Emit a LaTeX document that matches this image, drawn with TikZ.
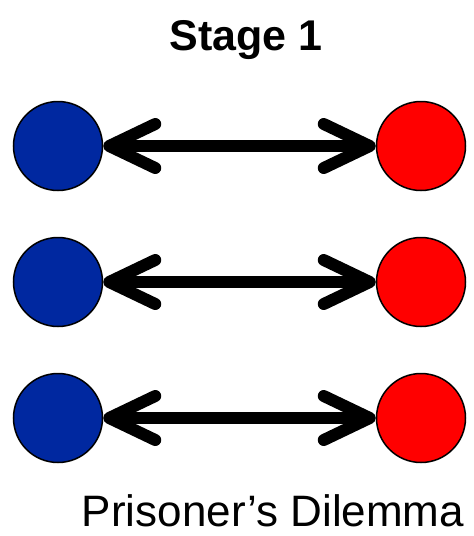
\documentclass[tikz,border=0pt]{standalone}
\usepackage{fontspec}
\setmainfont{Liberation Sans}
\usetikzlibrary{arrows.meta}
\definecolor{pblue}{RGB}{0,40,160}
\definecolor{pred}{RGB}{255,0,0}
\begin{document}
\begin{tikzpicture}[x=1pt,y=-1pt,
  player/.style={circle,draw=black,line width=1.5pt,minimum size=89pt,inner sep=0pt},
  bluep/.style={player,fill=pblue},
  redp/.style={player,fill=pred},
  link/.style={line width=12pt,{Straight Barb[round,length=46pt,width=44pt]}-{Straight Barb[round,length=46pt,width=44pt]}},
  title/.style={font=\fontsize{43}{50}\selectfont\bfseries,anchor=base,inner sep=0pt},
  caption/.style={font=\fontsize{44}{52}\selectfont,anchor=base,inner sep=0pt,text depth=0pt}]
\useasboundingbox (0,0) rectangle (474,536);
\node[title] (t) at (246,50) {Stage 1};
\foreach \i/\y in {1/146,2/282,3/418}{
  \node[bluep] (b\i) at (58,\y) {};
  \node[redp] (r\i) at (421,\y) {};
  \draw[link] (b\i) -- (r\i);
}
\node[caption] (c) at (273,526) {Prisoner’s Dilemma};
\end{tikzpicture}
\end{document}
